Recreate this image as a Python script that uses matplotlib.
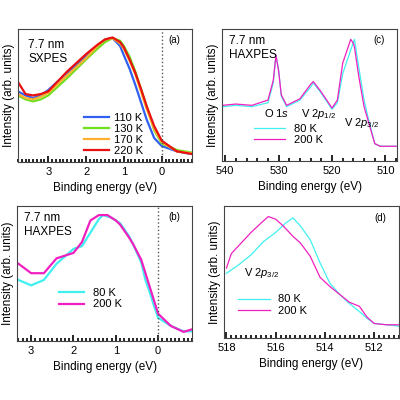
import numpy as np
import matplotlib.pyplot as plt
from matplotlib.ticker import MultipleLocator

plt.rcParams['font.family'] = ['Liberation Sans', 'DejaVu Sans']
plt.rcParams['font.size'] = 8
plt.rcParams['mathtext.fontset'] = 'custom'
plt.rcParams['mathtext.it'] = 'Liberation Sans:italic'
plt.rcParams['mathtext.rm'] = 'Liberation Sans'

# ---- panel (a): SXPES valence band ----
a_x = [3.8, 3.6, 3.4, 3.2, 3.0, 2.5, 2.0, 1.7, 1.5, 1.3, 1.1, 1.0, 0.85, 0.7, 0.55, 0.4,
       0.2, 0.0, -0.4, -0.8]
a_110 = [0.53, 0.50, 0.48, 0.50, 0.54, 0.67, 0.79, 0.87, 0.92, 0.93, 0.87, 0.80, 0.70, 0.58,
         0.45, 0.32, 0.18, 0.12, 0.08, 0.06]
a_130 = [0.50, 0.47, 0.455, 0.47, 0.50, 0.63, 0.77, 0.85, 0.90, 0.93, 0.91, 0.87, 0.79, 0.68,
         0.55, 0.42, 0.24, 0.14, 0.09, 0.07]
a_170 = [0.51, 0.48, 0.47, 0.49, 0.52, 0.65, 0.78, 0.87, 0.92, 0.93, 0.89, 0.85, 0.76, 0.66,
         0.53, 0.40, 0.25, 0.15, 0.08, 0.065]
a_220 = [0.60, 0.51, 0.50, 0.51, 0.53, 0.68, 0.81, 0.88, 0.92, 0.935, 0.90, 0.86, 0.77, 0.67,
         0.55, 0.42, 0.27, 0.16, 0.08, 0.06]

# ---- panel (b): HAXPES valence band ----
b_x = [3.3, 3.0, 2.7, 2.4, 2.0, 1.8, 1.6, 1.5, 1.4, 1.3, 1.2, 1.1, 1.0, 0.9, 0.7, 0.6,
       0.4, 0.3, 0.2, 0.1, 0.0, -0.3, -0.6, -0.8]
b_80 = [0.45, 0.41, 0.45, 0.57, 0.68, 0.70, 0.80, 0.85, 0.90, 0.93, 0.92, 0.91, 0.89, 0.87,
        0.78, 0.72, 0.58, 0.45, 0.36, 0.26, 0.17, 0.11, 0.07, 0.07]
b_200 = [0.57, 0.50, 0.50, 0.61, 0.65, 0.73, 0.89, 0.91, 0.93, 0.93, 0.93, 0.91, 0.89, 0.86,
         0.77, 0.72, 0.60, 0.50, 0.40, 0.30, 0.20, 0.11, 0.066, 0.085]

# ---- panel (c): HAXPES core levels ----
c_x = [540.5, 538, 535, 532, 531, 530.5, 530, 529.5, 528.5, 526, 524, 523.5, 522, 520,
       519, 518, 516.5, 516, 515.8, 515, 514, 513, 512, 511, 508]
c_80 = [0.41, 0.42, 0.41, 0.44, 0.59, 0.80, 0.69, 0.49, 0.41, 0.46, 0.56, 0.59, 0.51, 0.39,
        0.44, 0.66, 0.84, 0.90, 0.92, 0.71, 0.46, 0.285, 0.13, 0.11, 0.11]
c_200 = [0.42, 0.43, 0.42, 0.46, 0.61, 0.80, 0.68, 0.50, 0.42, 0.47, 0.58, 0.60, 0.52, 0.40,
         0.46, 0.74, 0.92, 0.89, 0.86, 0.64, 0.41, 0.27, 0.13, 0.11, 0.11]

# ---- panel (d): V 2p3/2 zoom ----
d_x80 = [518, 517.5, 517, 516.5, 516, 515.6, 515.3, 515, 514.6, 514.2, 513.8, 513.4, 513,
         512.6, 512.3, 512, 511.5, 511]
d_80 = [0.49, 0.555, 0.63, 0.73, 0.80, 0.87, 0.91, 0.85, 0.745, 0.57, 0.415, 0.33, 0.26,
        0.20, 0.15, 0.11, 0.10, 0.09]
d_x200 = [518, 517.8, 517.4, 517, 516.6, 516.3, 516, 515.7, 515.3, 515, 514.6, 514.2, 513.8,
          513.4, 513, 512.6, 512.3, 512, 511.5, 511]
d_200 = [0.53, 0.64, 0.72, 0.80, 0.87, 0.92, 0.90, 0.85, 0.77, 0.72, 0.62, 0.46, 0.39, 0.33,
         0.27, 0.24, 0.16, 0.11, 0.10, 0.10]

CYAN = '#40f0f0'
MAG = '#f020c0'

fig = plt.figure(figsize=(4, 4), dpi=100)
axa = fig.add_axes([0.045, 0.595, 0.435, 0.333])
axc = fig.add_axes([0.555, 0.598, 0.438, 0.330])
axb = fig.add_axes([0.043, 0.148, 0.437, 0.338])
axd = fig.add_axes([0.560, 0.155, 0.437, 0.330])


def style(ax, xlim, major, minor, label):
    ax.set_xlim(*xlim)
    ax.set_ylim(0, 1)
    ax.set_yticks([])
    ax.xaxis.set_major_locator(MultipleLocator(major))
    ax.xaxis.set_minor_locator(MultipleLocator(minor))
    ax.tick_params(axis='x', direction='in', length=4, width=1.2, labelsize=8)
    ax.tick_params(axis='x', which='minor', direction='in', length=2.5, width=1.2)
    ax.set_xlabel('Binding energy (eV)', fontsize=8.5)
    ax.set_ylabel('Intensity (arb. units)', fontsize=8.5, labelpad=2)
    for s in ax.spines.values():
        s.set_color('#444444')
    ax.text(0.93, 0.95, label, transform=ax.transAxes, ha='right', va='top', fontsize=7)


# (a)
style(axa, (3.8, -0.8), 1, 0.1, '(a)')
axa.plot(a_x, a_110, color='#3060f0', lw=1.6, label='110 K')
axa.plot(a_x, a_130, color='#70e020', lw=1.6, label='130 K')
axa.plot(a_x, a_170, color='#ffb030', lw=1.6, label='170 K')
axa.plot(a_x, a_220, color='#e81010', lw=1.6, label='220 K')
axa.axvline(0, color='#555555', ls=':', lw=1)
axa.text(0.06, 0.92, '7.7 nm\nSXPES', transform=axa.transAxes, va='top', fontsize=8.5)
axa.legend(loc='lower left', bbox_to_anchor=(0.32, -0.03), frameon=False, fontsize=8,
           handlelength=2.3, handletextpad=0.4, labelspacing=0.1)

# (b)
style(axb, (3.33, -0.8), 1, 0.1, '(b)')
axb.plot(b_x, b_80, color=CYAN, lw=1.6, label='80 K')
axb.plot(b_x, b_200, color=MAG, lw=1.6, label='200 K')
axb.axvline(0, color='#555555', ls=':', lw=1)
axb.text(0.04, 0.95, '7.7 nm\nHAXPES', transform=axb.transAxes, va='top', fontsize=8.5)
axb.legend(loc='center', bbox_to_anchor=(0.42, 0.31), frameon=False, fontsize=8,
           handlelength=2.3, labelspacing=0.1)

# (c)
style(axc, (540.6, 507.8), 10, 2, '(c)')
axc.plot(c_x, c_80, color=CYAN, lw=0.9, label='80 K')
axc.plot(c_x, c_200, color=MAG, lw=0.9, label='200 K')
axc.text(0.04, 0.95, '7.7 nm\nHAXPES', transform=axc.transAxes, va='top', fontsize=8.5)
axc.text(530.3, 0.33, 'O 1$s$', ha='center', fontsize=8)
axc.text(522.5, 0.33, 'V 2$p_{1/2}$', ha='center', fontsize=8)
axc.text(514.5, 0.26, 'V 2$p_{3/2}$', ha='center', fontsize=8)
axc.legend(loc='center', bbox_to_anchor=(0.38, 0.2), frameon=False, fontsize=8,
           handlelength=2.8, labelspacing=0.1)

# (d)
style(axd, (518.1, 511.0), 2, 0.2, '(d)')
axd.plot(d_x80, d_80, color=CYAN, lw=0.9, label='80 K')
axd.plot(d_x200, d_200, color=MAG, lw=0.9, label='200 K')
axd.text(517.3, 0.47, 'V 2$p_{3/2}$', fontsize=8)
axd.legend(loc='center', bbox_to_anchor=(0.28, 0.25), frameon=False, fontsize=8,
           handlelength=2.8, labelspacing=0.1)

fig.savefig('out.png', dpi=100)
